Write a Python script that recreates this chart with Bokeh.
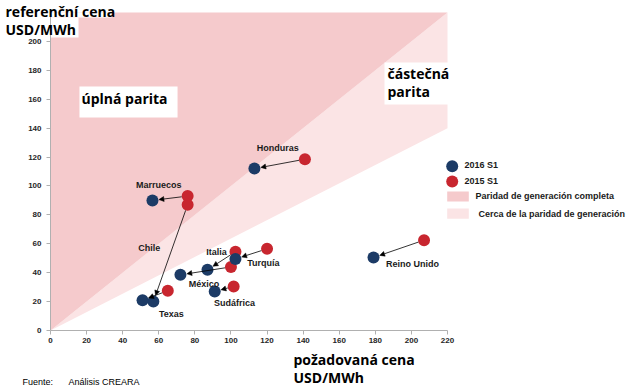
import math
from bokeh.plotting import figure
from bokeh.models import (Range1d, FixedTicker, Label, Arrow, NormalHead,
                          ColumnDataSource)
from bokeh.embed import file_html
from bokeh.resources import INLINE

# ---------------- data ----------------
countries = ["Honduras", "Marruecos", "Chile", "Texas", "Turquía", "Italia",
             "México", "Sudáfrica", "Reino Unido"]
# x: požadovaná cena (USD/MWh), y: referenční cena (USD/MWh)
cost_2015 = [141, 76, 76, 65, 120, 102.5, 100, 101.5, 207]
price_2015 = [118.5, 93, 87, 27.5, 56.5, 54.5, 44, 30.5, 62.5]
cost_2016 = [113, 56.5, 57, 51, 102.5, 87, 72, 91, 179]
price_2016 = [112, 90, 20, 21, 49.5, 42, 38.5, 27, 50.5]
label_x = [126, 60, 54.7, 67, 118, 92, 85, 102, 200.6]
label_y = [126, 100.5, 57, 11.5, 47, 54, 32.5, 19, 45.7]

x_ticks = [0, 20, 40, 60, 80, 100, 120, 140, 160, 180, 200, 220]
y_ticks = [0, 20, 40, 60, 80, 100, 120, 140, 160, 180, 200]

full_parity_x = [0, 0, 220]
full_parity_y = [0, 220, 220]
near_parity_x = [0, 220, 220]
near_parity_y = [0, 220, 140]

series_names = ["2016 S1", "2015 S1"]
area_names = ["Paridad de generación completa", "Cerca de la paridad de generación"]

# ---------------- layout ----------------
W, H = 640, 391
OX, OY = 50, 330            # canvas pixel of data origin
XS = 397 / 220.0            # px per unit on x
YS = 318 / 220.0            # px per unit on y

BLUE = "#1c3b66"
RED = "#c8262f"
PINK = "#f5cacc"
LIGHT_PINK = "#fbe4e5"
SANS = "Liberation Sans"
CZ = "Open Sans"


def px2x(px):      # canvas pixel -> data
    return (px - OX) / XS


def py2y(py):
    return (OY - py) / YS


p = figure(width=W, height=H, output_backend="svg", toolbar_location=None,
           x_range=Range1d(-OX / XS, (W - OX) / XS),
           y_range=Range1d((OY - H) / YS, OY / YS),
           min_border=0, background_fill_color="white",
           border_fill_color="white")
p.outline_line_color = None
p.grid.visible = False

for ax in (p.xaxis[0], p.yaxis[0]):
    ax.fixed_location = 0
    ax.axis_line_color = "#b0b0b0"
    ax.major_tick_line_color = "#b0b0b0"
    ax.minor_tick_line_color = None
    ax.major_tick_in = 0
    ax.major_tick_out = 4
    ax.major_label_text_font = SANS
    ax.major_label_text_font_style = "bold"
    ax.major_label_text_font_size = "8px"
    ax.major_label_text_color = "#262626"
    ax.bounds = (0, 220)

p.xaxis.ticker = FixedTicker(ticks=x_ticks)
p.yaxis.ticker = FixedTicker(ticks=y_ticks)
p.xaxis.major_label_standoff = 3
p.yaxis.major_label_standoff = 5

# shaded areas
p.patch(near_parity_x, near_parity_y, fill_color=LIGHT_PINK, line_color=None)
p.patch(full_parity_x, full_parity_y, fill_color=PINK, line_color=None)

# white backing behind the y-axis title
p.quad(left=[0, 0], right=[px2x(111), px2x(78)], top=[py2y(12), py2y(17)],
       bottom=[py2y(17), py2y(37)], fill_color="white", line_color=None)

# arrows from 2015 to 2016
R1, R2 = 6.0, 6.5
xs0, ys0, xs1, ys1 = [], [], [], []
for x1, y1, x2, y2 in zip(cost_2015, price_2015, cost_2016, price_2016):
    dx, dy = (x2 - x1) * XS, (y2 - y1) * YS
    L = math.hypot(dx, dy)
    ux, uy = dx / L, dy / L
    xs0.append(x1 + ux * R1 / XS)
    ys0.append(y1 + uy * R1 / YS)
    xs1.append(x2 - ux * R2 / XS)
    ys1.append(y2 - uy * R2 / YS)
arrow_src = ColumnDataSource(dict(x0=xs0, y0=ys0, x1=xs1, y1=ys1))
p.add_layout(Arrow(end=NormalHead(size=5, fill_color="black", line_color="black", line_width=0.5),
                   x_start="x0", y_start="y0", x_end="x1", y_end="y1",
                   source=arrow_src, line_color="black", line_width=0.8))

p.scatter(cost_2015, price_2015, size=12, fill_color=RED, line_color=None)
p.scatter(cost_2016, price_2016, size=12, fill_color=BLUE, line_color=None)

# country labels
for name, lx, ly in zip(countries, label_x, label_y):
    p.add_layout(Label(x=lx, y=ly, text=name, text_align="center",
                       text_baseline="middle", text_font=SANS,
                       text_font_style="bold", text_font_size="9px",
                       text_color="#1a1a1a"))

# region text boxes
p.add_layout(Label(x=px2x(128), y=py2y(101.5), text="úplná parita",
                   text_align="center", text_baseline="middle",
                   text_font=CZ, text_font_style="bold",
                   text_font_size="14px", text_color="black",
                   background_fill_color="white", padding=(2, 10, 2, 10)))
p.add_layout(Label(x=px2x(384), y=py2y(62), text="částečná\nparita",
                   text_align="left", text_baseline="top",
                   text_font=CZ, text_font_style="bold",
                   text_font_size="14px", text_color="black",
                   text_line_height=0.95,
                   background_fill_color="white", padding=(3, 10, 1, 4)))

# axis titles
for txt, xx, yy in [("referenční cena", 5, 11), ("USD/MWh", 5, 29),
                    ("požadovaná cena", 293, 359), ("USD/MWh", 293, 377)]:
    p.add_layout(Label(x=px2x(xx), y=py2y(yy), text=txt, text_align="left",
                       text_baseline="middle", text_font=CZ,
                       text_font_style="bold", text_font_size="14px",
                       text_color="black"))

# source
p.add_layout(Label(x=px2x(22), y=py2y(381), text="Fuente:", text_align="left",
                   text_baseline="middle", text_font=SANS,
                   text_font_size="9px", text_color="black"))
p.add_layout(Label(x=px2x(68), y=py2y(381), text="Análisis CREARA", text_align="left",
                   text_baseline="middle", text_font=SANS,
                   text_font_size="9px", text_color="black"))

# legend (drawn manually)
p.scatter([px2x(451.7)], [py2y(165.7)], size=12, fill_color=BLUE, line_color=None)
p.scatter([px2x(451.7)], [py2y(181)], size=12, fill_color=RED, line_color=None)
p.quad(left=[px2x(446.7)], right=[px2x(468.3)], top=[py2y(191)], bottom=[py2y(201)],
       fill_color=PINK, line_color=None)
p.quad(left=[px2x(446.7)], right=[px2x(468.3)], top=[py2y(208)], bottom=[py2y(218.3)],
       fill_color=LIGHT_PINK, line_color=None)
for txt, xx, yy in [(series_names[0], 464, 164.5), (series_names[1], 464, 180),
                    (area_names[0], 475, 195.5), (area_names[1], 478, 213)]:
    p.add_layout(Label(x=px2x(xx), y=py2y(yy), text=txt, text_align="left",
                       text_baseline="middle", text_font=SANS,
                       text_font_style="bold", text_font_size="9px",
                       text_color="#1a1a1a"))

open("out.html", "w").write(file_html(p, INLINE))
